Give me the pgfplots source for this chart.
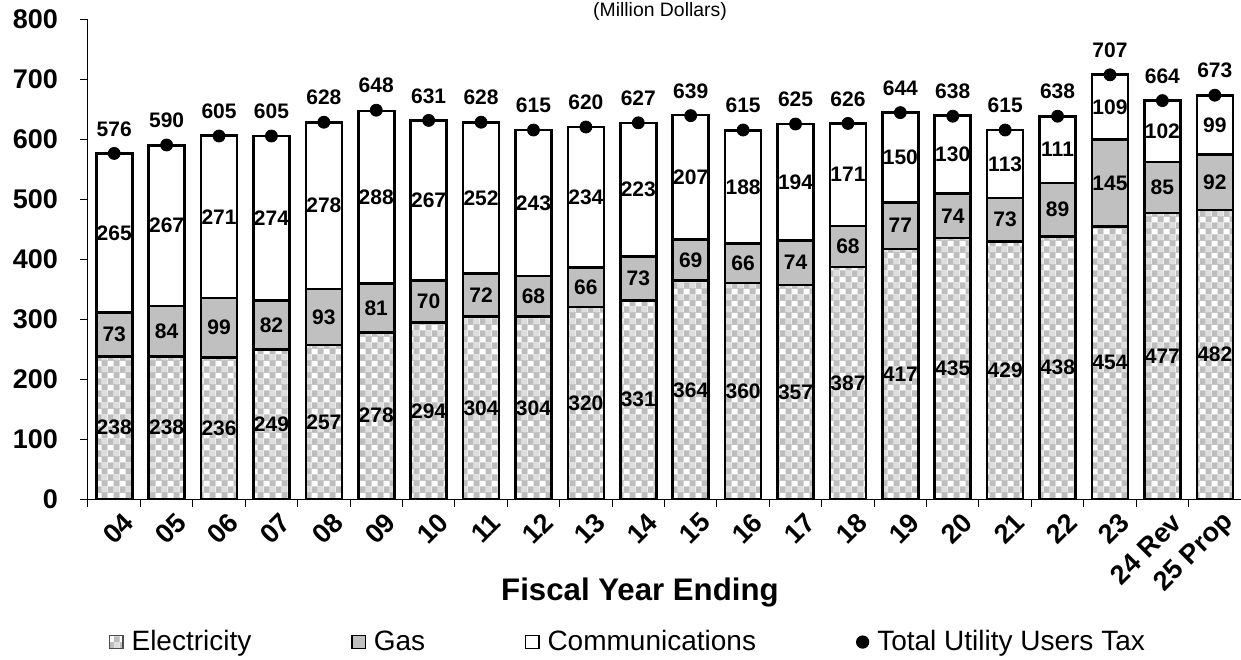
\documentclass[border=0pt]{standalone}
\usepackage{fontspec}
\setmainfont{Liberation Sans}
\usepackage{pgfplots}
\usepackage{pgfplotstable}
\pgfplotsset{compat=1.18}
\usetikzlibrary{patterns}

% light grey checks for the electricity bars
\pgfdeclarepatterninherentlycolored{elecchk}
{\pgfpointorigin}{\pgfpoint{6pt}{6pt}}{\pgfpoint{6pt}{6pt}}
{
  \pgfsetfillcolor{white}
  \pgfpathrectangle{\pgfpointorigin}{\pgfpoint{6pt}{6pt}}\pgfusepath{fill}
  \pgfsetfillcolor{black!26}
  \pgfpathrectangle{\pgfpointorigin}{\pgfpoint{3pt}{3pt}}\pgfusepath{fill}
  \pgfpathrectangle{\pgfpoint{3pt}{3pt}}{\pgfpoint{3pt}{3pt}}\pgfusepath{fill}
  \pgfsetfillcolor{black!13}
  \pgfpathrectangle{\pgfpoint{3pt}{0pt}}{\pgfpoint{3pt}{3pt}}\pgfusepath{fill}
}

\definecolor{gasgray}{RGB}{192,192,192}

\pgfplotstableread{
x e g c t
0 238 73 265 576
1 238 84 267 590
2 236 99 271 605
3 249 82 274 605
4 257 93 278 628
5 278 81 288 648
6 294 70 267 631
7 304 72 252 628
8 304 68 243 615
9 320 66 234 620
10 331 73 223 627
11 364 69 207 639
12 360 66 188 615
13 357 74 194 625
14 387 68 171 626
15 417 77 150 644
16 435 74 130 638
17 429 73 113 615
18 438 89 111 638
19 454 145 109 707
20 477 85 102 664
21 482 92 99 673
}\data

\begin{document}
\begin{tikzpicture}
\begin{axis}[
    at={(0,0)}, anchor=south west,
    scale only axis,
    width=576.5pt, height=240pt,
    clip=false,
    xmin=-0.5, xmax=21.5,
    ymin=0, ymax=800,
    ytick={0,100,...,800},
    xtick={0,...,21},
    xticklabels={04,05,06,07,08,09,10,11,12,13,14,15,16,17,18,19,20,21,22,23,24 Rev,25 Prop},
    minor xtick={-0.5,0.5,...,21.5},
    major x tick style={draw=none},
    tick align=outside,
    major tick length=4pt, minor tick length=4pt,
    tick style={black, line width=0.5pt},
    axis x line*=bottom, axis y line*=left,
    axis line style={-, line width=0.5pt},
    /pgf/number format/assume math mode=true,
    yticklabel style={font=\fontsize{13.5}{15}\selectfont\bfseries, xshift=-7.5pt},
    xticklabel style={font=\fontsize{13.5}{15}\selectfont\bfseries, rotate=45, anchor=east, inner sep=0pt, xshift=1.5pt, yshift=-9pt},
    xlabel={Fiscal Year Ending},
    xlabel style={at={(axis description cs:0.4787,-0.194)}, anchor=center, font=\fontsize{15.6}{18}\selectfont\bfseries},
    legend columns=4,
    legend style={at={(axis description cs:0.4675,-0.298)}, anchor=center, draw=none,
        font=\fontsize{14}{16}\selectfont, nodes={inner sep=0pt},
        /tikz/column 1/.style={column sep=4pt},
        /tikz/column 2/.style={column sep=50pt},
        /tikz/column 3/.style={column sep=4pt},
        /tikz/column 4/.style={column sep=50pt},
        /tikz/column 5/.style={column sep=4pt},
        /tikz/column 6/.style={column sep=50pt},
        /tikz/column 7/.style={column sep=4pt}},
    every node near coord/.style={font=\fontsize{10.5}{12}\selectfont\bfseries, black, anchor=center},
]
\addlegendimage{legend image code/.code={\draw[pattern=elecchk, draw=black!70, line width=0.6pt] (0pt,-3.3pt) rectangle (6.6pt,3.3pt);}}
\addlegendimage{legend image code/.code={\draw[fill=gasgray, draw=black, line width=0.6pt] (0pt,-3.3pt) rectangle (6.6pt,3.3pt);}}
\addlegendimage{legend image code/.code={\draw[fill=white, draw=black, line width=0.6pt] (0pt,-3.3pt) rectangle (6.6pt,3.3pt);}}
\addlegendimage{legend image code/.code={\fill[black] (3.3pt,0pt) circle (3.1pt);}}

% full bar (communications on top), then gas+electricity, then electricity
\addplot[ybar, bar width=18pt, bar shift=0pt, fill=white, draw=black, line width=1.3pt, forget plot]
    table[x=x, y expr=\thisrow{e}+\thisrow{g}+\thisrow{c}] {\data};
\addplot[ybar, bar width=18pt, bar shift=0pt, fill=gasgray, draw=black, line width=1.3pt, forget plot]
    table[x=x, y expr=\thisrow{e}+\thisrow{g}] {\data};
\addplot[ybar, bar width=18pt, bar shift=0pt, pattern=elecchk, draw=black, line width=1.3pt, forget plot]
    table[x=x, y=e] {\data};

% segment labels
\addplot[draw=none, mark=none, nodes near coords, point meta=explicit, forget plot]
    table[x=x, y expr=\thisrow{e}/2, meta=e] {\data};
\addplot[draw=none, mark=none, nodes near coords, point meta=explicit, forget plot]
    table[x=x, y expr=\thisrow{e}+\thisrow{g}/2, meta=g] {\data};
\addplot[draw=none, mark=none, nodes near coords, point meta=explicit, forget plot]
    table[x=x, y expr=\thisrow{e}+\thisrow{g}+\thisrow{c}/2, meta=c] {\data};

% totals
\addplot[only marks, mark=*, mark size=3pt, black, nodes near coords, point meta=explicit,
    every node near coord/.append style={anchor=south, yshift=5pt}, forget plot]
    table[x=x, y=t, meta=t] {\data};

\legend{Electricity, Gas, Communications, Total Utility Users Tax}
\end{axis}
\node[font=\fontsize{9.7}{11}\selectfont] at (286pt,244pt) {(Million Dollars)};
\pgfresetboundingbox
\useasboundingbox (-44pt,-80pt) rectangle (576.5pt,249.5pt);
\end{tikzpicture}
\end{document}
